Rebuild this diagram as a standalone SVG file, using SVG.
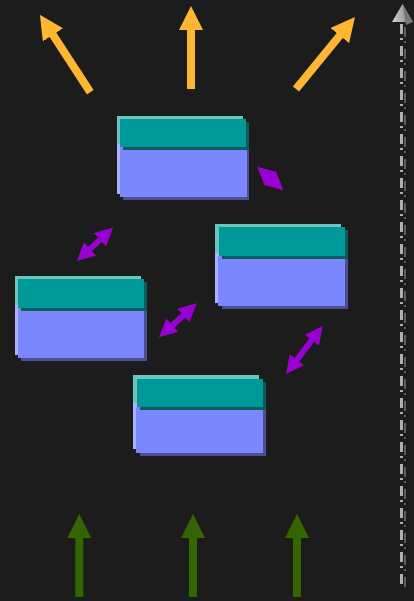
<svg xmlns="http://www.w3.org/2000/svg" width="414" height="601" viewBox="0 0 414 601">
<style>
.hh{fill:#6cc4bf}.hs{fill:#0b5c5c}.hm{fill:#009999}
.bh{fill:#abb0ff}.bs{fill:#4b5190}.bm{fill:#7b87ff}
.pur{stroke:#9b00d3;stroke-width:6;fill:none;marker-start:url(#ph);marker-end:url(#ph)}
.org{stroke:#ffb733;stroke-width:8;fill:none;marker-end:url(#oh)}
.grn{stroke:#336600;stroke-width:8;fill:none;marker-end:url(#gh)}
</style>
<defs>
<marker id="ph" markerUnits="userSpaceOnUse" viewBox="0 0 18 18" markerWidth="18" markerHeight="18" refX="1" refY="9" orient="auto-start-reverse"><path d="M0,0 L18,9 L0,18 Z" fill="#9b00d3"/></marker>
<marker id="oh" markerUnits="userSpaceOnUse" viewBox="0 0 24 24" markerWidth="24" markerHeight="24" refX="1" refY="12" orient="auto"><path d="M0,0 L24,12 L0,24 Z" fill="#ffb733"/></marker>
<marker id="gh" markerUnits="userSpaceOnUse" viewBox="0 0 24 24" markerWidth="24" markerHeight="24" refX="1" refY="12" orient="auto"><path d="M0,0 L24,12 L0,24 Z" fill="#336600"/></marker>
<linearGradient id="gg" x1="0" y1="0" x2="1" y2="0"><stop offset="0" stop-color="#d0d0d0"/><stop offset="0.5" stop-color="#a8a8a8"/><stop offset="1" stop-color="#6a6a6a"/></linearGradient>
</defs>
<rect width="414" height="601" fill="#1c1c1c"/>

<g id="box1" transform="translate(120,119)">
<rect class="bs" x="3" y="31" width="126" height="50"/><rect class="bh" x="-3" y="25" width="126" height="50"/><rect class="bm" x="0" y="28" width="127" height="50"/>
<rect class="hs" x="3" y="3" width="126" height="28"/><rect class="hh" x="-3" y="-3" width="126" height="28"/><rect class="hm" x="0" y="0" width="126" height="28"/>
</g>
<g id="box2" transform="translate(219,227)">
<rect class="bs" x="3" y="32" width="126" height="50"/><rect class="bh" x="-4" y="26" width="126" height="50"/><rect class="bm" x="-1" y="29" width="127" height="50"/>
<rect class="hs" x="3" y="3" width="126" height="29"/><rect class="hh" x="-4" y="-3" width="126" height="29"/><rect class="hm" x="0" y="0" width="126" height="29"/>
</g>
<g id="box3" transform="translate(18,279)">
<rect class="bs" x="3" y="32" width="126" height="50"/><rect class="bh" x="-3" y="26" width="126" height="50"/><rect class="bm" x="0" y="29" width="126" height="50"/>
<rect class="hs" x="3" y="3" width="126" height="29"/><rect class="hh" x="-3" y="-3" width="126" height="29"/><rect class="hm" x="0" y="0" width="126" height="29"/>
</g>
<g id="box4" transform="translate(137,379)">
<rect class="bs" x="3" y="31" width="126" height="46"/><rect class="bh" x="-4" y="24" width="126" height="46"/><rect class="bm" x="-1" y="28" width="127" height="46"/>
<rect class="hs" x="3" y="3" width="126" height="28"/><rect class="hh" x="-4" y="-4" width="126" height="28"/><rect class="hm" x="0" y="0" width="126" height="28"/>
</g>

<g id="connectors">
<line class="pur" x1="89.3" y1="249.6" x2="100.7" y2="239.1"/>
<line class="pur" x1="171.6" y1="325.9" x2="184.1" y2="314.7"/>
<line class="pur" x1="296.3" y1="360.5" x2="312.4" y2="339.5"/>
<line class="pur" x1="269.9" y1="178.1" x2="270.8" y2="178.9"/>
<line class="org" x1="90.3" y1="92.3" x2="52.4" y2="34"/>
<line class="org" x1="191" y1="89" x2="191" y2="29"/>
<line class="org" x1="296" y1="89" x2="340.4" y2="34.8"/>
<line class="grn" x1="79.3" y1="597" x2="79.3" y2="537"/>
<line class="grn" x1="193" y1="597" x2="193" y2="537"/>
<line class="grn" x1="297" y1="597" x2="297" y2="537"/>
</g>

<g id="scale">
<line x1="405" y1="27" x2="405" y2="588" stroke="#5e5e5e" stroke-width="2" stroke-dasharray="10 4 2 6"/>
<line x1="401.5" y1="24" x2="401.5" y2="585" stroke="#b0b0b0" stroke-width="3" stroke-dasharray="10 4 2 6"/>
<polygon points="402.5,4 392,22 413,22" fill="url(#gg)"/>
<polygon points="402.5,4 413,22 406,25" fill="#777"/>
</g>
</svg>
